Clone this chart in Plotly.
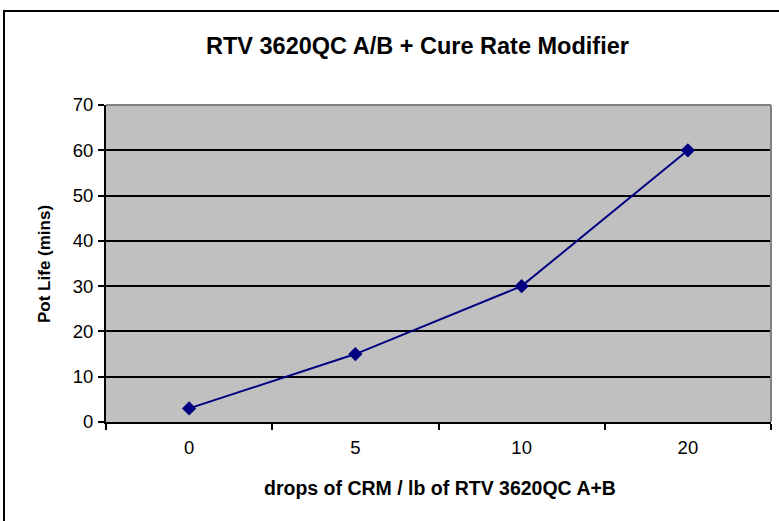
import plotly.graph_objects as go

categories = ["0", "5", "10", "20"]
pot_life = [3, 15, 30, 60]
y_ticks = [0, 10, 20, 30, 40, 50, 60, 70]

W, H = 779, 521
L, R, T, B = 106, 8, 105, 99
pw, ph = W - L - R, H - T - B

def px_x(x):
    return (x - L) / pw

def px_y(y):
    return (H - B - y) / ph

fig = go.Figure()
fig.add_trace(go.Scatter(
    x=categories, y=pot_life, mode="lines+markers",
    line=dict(color="#000080", width=2),
    marker=dict(symbol="diamond", size=11, color="#000080"),
    showlegend=False, cliponaxis=False,
))

font = "Liberation Sans, Arial, sans-serif"
fig.update_layout(
    width=W, height=H,
    margin=dict(l=L, r=R, t=T, b=B),
    paper_bgcolor="white", plot_bgcolor="#C0C0C0",
    font=dict(family=font, size=18, color="black"),
    xaxis=dict(
        type="category", range=[-0.5, 3.5], tickson="boundaries",
        ticks="outside", ticklen=6, tickwidth=2, tickcolor="black",
        showline=True, linecolor="black", linewidth=2,
        showgrid=False, zeroline=False,
        tickfont=dict(size=18.5), ticklabelstandoff=8,
    ),
    yaxis=dict(
        range=[0, 70], tickvals=y_ticks,
        ticks="outside", ticklen=6, tickwidth=2, tickcolor="black",
        showline=True, linecolor="black", linewidth=2,
        showgrid=True, gridcolor="black", gridwidth=1.5, zeroline=False,
        tickfont=dict(size=18.5), ticklabelstandoff=1,
    ),
    shapes=[
        dict(type="rect", xref="paper", yref="paper",
             x0=px_x(4), x1=px_x(900), y0=px_y(11), y1=px_y(700),
             line=dict(color="black", width=2), layer="below"),
        dict(type="line", xref="paper", yref="paper", x0=0, x1=1, y0=1, y1=1,
             line=dict(color="#808080", width=2), layer="above"),
        dict(type="line", xref="paper", yref="paper", x0=1, x1=1, y0=0, y1=1,
             line=dict(color="#808080", width=2), layer="above"),
    ],
    annotations=[
        dict(text="<b>RTV 3620QC A/B + Cure Rate Modifier</b>", xref="paper", yref="paper",
             x=px_x(417), y=px_y(46), xanchor="center", yanchor="middle",
             showarrow=False, font=dict(size=23.5)),
        dict(text="<b>drops of CRM / lb of RTV 3620QC A+B</b>", xref="paper", yref="paper",
             x=px_x(440), y=px_y(488), xanchor="center", yanchor="middle",
             showarrow=False, font=dict(size=19.5)),
        dict(text="<b>Pot Life (mins)</b>", xref="paper", yref="paper",
             x=px_x(44), y=px_y(264), xanchor="center", yanchor="middle",
             textangle=-90, showarrow=False, font=dict(size=17)),
    ],
)

fig.write_html("out.html", config={"displayModeBar": False},
               post_script="document.body.style.margin='0';document.body.style.overflow='hidden';")
